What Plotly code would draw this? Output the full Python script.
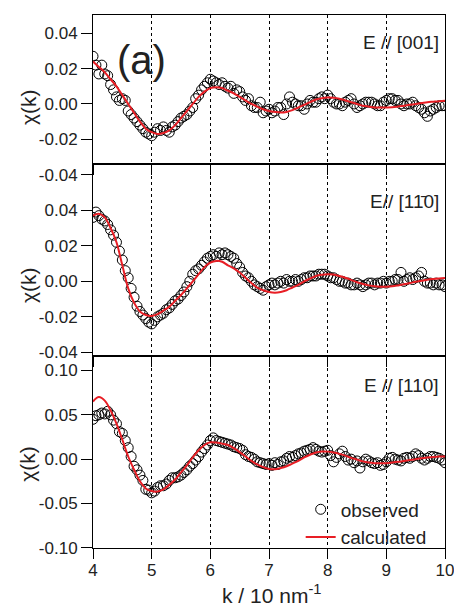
import plotly.graph_objects as go

# ---------------- data ----------------
k_obs = [4.00, 4.05, 4.10, 4.15, 4.20, 4.25, 4.30, 4.35, 4.40, 4.45,
         4.50, 4.55, 4.60, 4.65, 4.70, 4.75, 4.80, 4.85, 4.90, 4.95,
         5.00, 5.05, 5.10, 5.15, 5.20, 5.25, 5.30, 5.35, 5.40, 5.45,
         5.50, 5.55, 5.60, 5.65, 5.70, 5.75, 5.80, 5.85, 5.90, 5.95,
         6.00, 6.05, 6.10, 6.15, 6.20, 6.25, 6.30, 6.35, 6.40, 6.45,
         6.50, 6.55, 6.60, 6.65, 6.70, 6.75, 6.80, 6.85, 6.90, 6.95,
         7.00, 7.05, 7.10, 7.15, 7.20, 7.25, 7.30, 7.35, 7.40, 7.45,
         7.50, 7.55, 7.60, 7.65, 7.70, 7.75, 7.80, 7.85, 7.90, 7.95,
         8.00, 8.05, 8.10, 8.15, 8.20, 8.25, 8.30, 8.35, 8.40, 8.45,
         8.50, 8.55, 8.60, 8.65, 8.70, 8.75, 8.80, 8.85, 8.90, 8.95,
         9.00, 9.05, 9.10, 9.15, 9.20, 9.25, 9.30, 9.35, 9.40, 9.45,
         9.50, 9.55, 9.60, 9.65, 9.70, 9.75, 9.80, 9.85, 9.90, 9.95,
         10.00]

k_calc = [4.0, 4.1, 4.2, 4.3, 4.4, 4.5, 4.6, 4.7, 4.8, 4.9,
          5.0, 5.1, 5.2, 5.3, 5.4, 5.5, 5.6, 5.7, 5.8, 5.9,
          6.0, 6.1, 6.2, 6.3, 6.4, 6.5, 6.6, 6.7, 6.8, 6.9,
          7.0, 7.1, 7.2, 7.3, 7.4, 7.5, 7.6, 7.7, 7.8, 7.9,
          8.0, 8.1, 8.2, 8.3, 8.4, 8.5, 8.6, 8.7, 8.8, 8.9,
          9.0, 9.1, 9.2, 9.3, 9.4, 9.5, 9.6, 9.7, 9.8, 9.9,
          10.0]

# E // [001]
obs_001 = [0.027, 0.022, 0.017, 0.022, 0.017, 0.016, 0.011, 0.008, 0.004, 0.002,
           0.003, 0.002, -0.004, -0.006, -0.008, -0.010, -0.012, -0.014, -0.016, -0.017,
           -0.018, -0.016, -0.014, -0.015, -0.013, -0.015, -0.016, -0.013, -0.012, -0.010,
           -0.008, -0.007, -0.006, -0.004, -0.002, 0.003, 0.005, 0.008, 0.010, 0.012,
           0.014, 0.013, 0.012, 0.011, 0.012, 0.010, 0.009, 0.010, 0.006, 0.008,
           0.007, 0.004, 0.002, 0.003, -0.001, -0.002, -0.002, 0.001, -0.005, -0.004,
           -0.003, -0.005, -0.004, -0.002, -0.002, -0.006, 0.000, 0.004, 0.001, 0.000,
           -0.001, -0.001, -0.003, 0.000, 0.002, 0.001, 0.001, 0.003, 0.004, 0.003,
           0.005, 0.003, 0.001, 0.000, 0.000, -0.001, 0.001, 0.002, 0.003, 0.000,
           -0.002, -0.001, 0.000, 0.001, 0.001, 0.001, 0.000, -0.001, -0.001, 0.001,
           0.002, 0.003, 0.003, 0.002, 0.002, 0.000, -0.001, 0.000, 0.000, 0.001,
           -0.001, -0.002, -0.003, -0.005, -0.007, -0.004, -0.003, -0.002, -0.001, -0.001,
           -0.001]
calc_001 = [0.024, 0.021, 0.018, 0.014, 0.010, 0.005, 0.000, -0.005, -0.010, -0.014,
            -0.016, -0.017, -0.0165, -0.015, -0.012, -0.008, -0.004, 0.000, 0.004, 0.007,
            0.009, 0.0095, 0.009, 0.0075, 0.006, 0.004, 0.002, 0.000, -0.0015, -0.003,
            -0.004, -0.0045, -0.0048, -0.0045, -0.0035, -0.002, -0.0005, 0.001, 0.0025, 0.0033,
            0.0036, 0.0035, 0.003, 0.002, 0.001, 0.000, -0.001, -0.0015, -0.002, -0.002,
            -0.002, -0.0019, -0.0015, -0.001, -0.0005, 0.000, 0.0005, 0.001, 0.0013, 0.0016,
            0.0018]

# E // [1-10]
obs_1m10 = [0.036, 0.039, 0.037, 0.035, 0.034, 0.032, 0.029, 0.026, 0.022, 0.017,
            0.012, 0.006, 0.002, -0.004, -0.009, -0.014, -0.017, -0.019, -0.021, -0.023,
            -0.024, -0.022, -0.020, -0.019, -0.018, -0.016, -0.015, -0.013, -0.011, -0.010,
            -0.008, -0.006, -0.003, 0.000, 0.004, 0.006, 0.007, 0.009, 0.011, 0.013,
            0.014, 0.015, 0.014, 0.016, 0.015, 0.016, 0.015, 0.014, 0.013, 0.010,
            0.008, 0.005, 0.003, 0.002, 0.000, -0.002, -0.003, -0.004, -0.005, -0.003,
            -0.002, -0.001, -0.002, -0.001, 0.000, -0.001, 0.001, 0.000, 0.000, 0.001,
            0.000, 0.001, 0.002, 0.002, 0.003, 0.003, 0.003, 0.004, 0.004, 0.004,
            0.003, 0.002, 0.002, 0.001, 0.000, 0.000, -0.001, -0.001, -0.002, -0.002,
            -0.001, -0.002, -0.003, -0.002, -0.001, -0.001, -0.002, -0.001, -0.001, 0.000,
            -0.001, 0.000, 0.000, 0.001, 0.001, 0.005, 0.000, 0.001, 0.002, 0.001,
            0.002, 0.003, 0.005, 0.000, -0.001, -0.001, -0.002, -0.001, -0.002, -0.002,
            -0.003]
calc_1m10 = [0.037, 0.038, 0.036, 0.030, 0.022, 0.009, -0.004, -0.012, -0.017, -0.019,
             -0.0195, -0.0185, -0.0165, -0.0143, -0.011, -0.0077, -0.004, 0.000, 0.004, 0.008,
             0.0105, 0.0115, 0.011, 0.009, 0.0073, 0.005, 0.002, -0.001, -0.0035, -0.005,
             -0.006, -0.0064, -0.006, -0.005, -0.0035, -0.002, 0.000, 0.0015, 0.003, 0.0037,
             0.004, 0.0038, 0.003, 0.002, 0.0008, -0.0005, -0.0015, -0.0023, -0.0028, -0.003,
             -0.003, -0.0028, -0.0023, -0.0017, -0.001, -0.0003, 0.0003, 0.0009, 0.0013, 0.0016,
             0.0018]

# E // [110]
obs_110 = [0.045, 0.049, 0.050, 0.052, 0.051, 0.054, 0.050, 0.044, 0.040, 0.031,
           0.029, 0.021, 0.013, 0.003, -0.008, -0.012, -0.018, -0.024, -0.034, -0.035,
           -0.038, -0.036, -0.032, -0.030, -0.030, -0.028, -0.024, -0.021, -0.021, -0.020,
           -0.018, -0.015, -0.012, -0.008, -0.005, -0.001, 0.003, 0.008, 0.012, 0.016,
           0.021, 0.024, 0.021, 0.020, 0.019, 0.018, 0.017, 0.016, 0.014, 0.013,
           0.012, 0.010, 0.005, 0.003, 0.002, 0.000, -0.003, -0.004, -0.005, -0.006,
           -0.005, -0.007, -0.004, -0.006, -0.003, -0.002, 0.001, 0.003, 0.002, 0.004,
           0.006, 0.007, 0.009, 0.010, 0.011, 0.013, 0.011, 0.009, 0.008, 0.009,
           0.010, 0.004, -0.003, 0.002, 0.006, 0.009, 0.003, -0.001, 0.000, -0.004,
           -0.002, -0.010, -0.003, 0.000, -0.002, -0.004, -0.005, -0.004, -0.007, -0.006,
           -0.003, 0.001, 0.002, 0.000, -0.001, -0.002, 0.001, 0.002, 0.001, 0.003,
           0.006, 0.004, 0.001, -0.001, 0.001, 0.003, 0.003, 0.002, 0.001, -0.001,
           -0.004]
calc_110 = [0.065, 0.070, 0.066, 0.055, 0.040, 0.022, 0.003, -0.012, -0.025, -0.033,
            -0.036, -0.0365, -0.034, -0.029, -0.023, -0.015, -0.007, 0.002, 0.010, 0.016,
            0.019, 0.0188, 0.0175, 0.016, 0.0125, 0.008, 0.003, -0.002, -0.006, -0.009,
            -0.011, -0.0113, -0.010, -0.008, -0.005, -0.002, 0.002, 0.005, 0.0075, 0.0086,
            0.0085, 0.0075, 0.006, 0.004, 0.0015, -0.0005, -0.0025, -0.0038, -0.0045, -0.0047,
            -0.0045, -0.0038, -0.003, -0.002, -0.001, 0.000, 0.001, 0.0018, 0.0025, 0.003,
            0.003]

x_ticks = [4, 5, 6, 7, 8, 9, 10]
y1_ticks = [0.04, 0.02, 0.00, -0.02]
y1_text = ["0.04", "0.02", "0.00", "-0.02"]
y2_ticks = [0.06, 0.04, 0.02, 0.00, -0.02, -0.04]
y2_text = ["-0.04", "0.04", "0.02", "0.00", "-0.02", "-0.04"]
y3_ticks = [0.10, 0.05, 0.00, -0.05, -0.10]
y3_text = ["0.10", "0.05", "0.00", "-0.05", "-0.10"]

panels = [
    (obs_001, calc_001, "E // [001]"),
    (obs_1m10, calc_1m10, "E// [11\u03040]"),
    (obs_110, calc_110, "E // [110]"),
]

# ---------------- figure ----------------
RED = "rgb(232,30,37)"
FONT = "Liberation Sans, Arial, Helvetica, sans-serif"
TXT = "#222"

fig = go.Figure()
axes = [("x", "y"), ("x2", "y2"), ("x3", "y3")]
for i, (obs, calc, label) in enumerate(panels):
    xa, ya = axes[i]
    fig.add_trace(go.Scatter(
        x=k_obs, y=obs, mode="markers", xaxis=xa, yaxis=ya,
        name="observed", showlegend=(i == 2),
        marker=dict(symbol="circle-open", size=10, color="black",
                    line=dict(width=1, color="black")),
    ))
    fig.add_trace(go.Scatter(
        x=k_calc, y=calc, mode="lines", xaxis=xa, yaxis=ya,
        name="calculated", showlegend=(i == 2), line_shape="spline",
        line=dict(color=RED, width=2),
    ))

common_x = dict(
    range=[4, 10], tickvals=x_ticks, ticks="outside", ticklen=10,
    tickcolor="black", tickwidth=1, ticklabelstandoff=-3,
    ticklabeloverflow="allow", automargin=False,
    showline=True, linecolor="black", linewidth=1, mirror=True,
    showgrid=True, gridcolor="black", gridwidth=1, griddash="dot",
    zeroline=False, tickfont=dict(size=17, color=TXT, family=FONT),
)
common_y = dict(
    ticks="outside", ticklen=11, tickcolor="black", tickwidth=1,
    showline=True, linecolor="black", linewidth=1, mirror=True,
    showgrid=False, zeroline=False, automargin=False,
    tickfont=dict(size=17, color=TXT, family=FONT),
)

d3 = [0.0, 0.3608]
d2 = [0.3608, 0.7205]
d1 = [0.7205, 1.0]

fig.update_layout(
    width=454, height=605,
    margin=dict(l=93, r=9, t=15, b=57, autoexpand=False),
    paper_bgcolor="white", plot_bgcolor="rgba(0,0,0,0)",
    font=dict(family=FONT, color=TXT),
    xaxis=dict(common_x, anchor="y", showticklabels=False),
    xaxis2=dict(common_x, anchor="y2", showticklabels=False, matches="x"),
    xaxis3=dict(common_x, anchor="y3", showticklabels=True, matches="x"),
    yaxis=dict(common_y, domain=d1, range=[-0.0340, 0.0504],
               tickvals=y1_ticks, ticktext=y1_text, anchor="x"),
    yaxis2=dict(common_y, domain=d2, range=[-0.0419, 0.0661],
                tickvals=y2_ticks, ticktext=y2_text, anchor="x2"),
    yaxis3=dict(common_y, domain=d3, range=[-0.1002, 0.1167],
                tickvals=y3_ticks, ticktext=y3_text, anchor="x3"),
    legend=dict(x=0.59, y=0.108, xanchor="left", yanchor="top",
                bgcolor="rgba(0,0,0,0)", font=dict(size=19, family=FONT, color=TXT),
                tracegroupgap=0, itemwidth=30),
    showlegend=True,
)

ann = []
label_y = [0.9475, 0.6497, 0.3058]
chi_y = [0.827, 0.493, 0.158]
for i, (_, _, label) in enumerate(panels):
    ann.append(dict(text=label, xref="paper", yref="paper", x=0.99, y=label_y[i],
                    xanchor="right", yanchor="middle", showarrow=False,
                    font=dict(size=19, family=FONT, color=TXT)))
    ann.append(dict(text="\u03c7(k)", xref="paper", yref="paper", x=-0.185, y=chi_y[i],
                    xanchor="center", yanchor="middle", showarrow=False, textangle=-90,
                    font=dict(size=21, family=FONT, color=TXT)))
ann.append(dict(text="(a)", xref="paper", yref="paper", x=0.139, y=0.9156,
                xanchor="center", yanchor="middle", showarrow=False,
                font=dict(size=40, family=FONT, color=TXT)))
ann.append(dict(text="k / 10 nm<sup>-1</sup>", xref="paper", yref="paper", x=0.506, y=-0.086,
                xanchor="center", yanchor="middle", showarrow=False,
                font=dict(size=21, family=FONT, color=TXT)))
fig.update_layout(annotations=ann)

fig.write_html("out.html")
